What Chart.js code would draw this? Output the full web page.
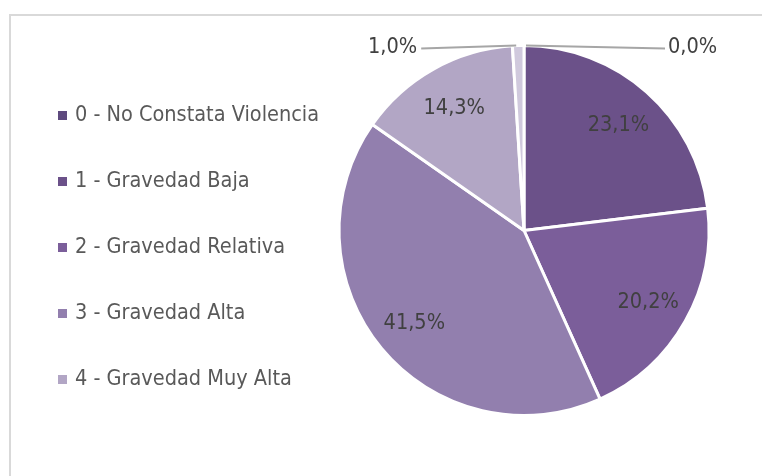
<!DOCTYPE html>
<html>
<head>
<meta charset="utf-8">
<script src="https://cdn.jsdelivr.net/npm/chart.js@4.4.1/dist/chart.umd.min.js"></script>
<style>
  html, body { margin: 0; padding: 0; background: #fff; }
  #wrap { position: relative; width: 762px; height: 476px; overflow: hidden; }
  #frame { position: absolute; left: 9px; top: 14px; width: 800px; height: 500px;
           border: 2px solid #d9d9d9; }
  canvas { position: absolute; left: 0; top: 0; }
</style>
</head>
<body>
<div id="wrap">
  <div id="frame"></div>
  <canvas id="pie" width="762" height="476"></canvas>
</div>
<script>
// Gravedad de la violencia constatada (%)
const categories = [
  '0 - No Constata Violencia',
  '1 - Gravedad Baja',
  '2 - Gravedad Relativa',
  '3 - Gravedad Alta',
  '4 - Gravedad Muy Alta',
  ''
];
const shares = [0.0, 23.1, 20.2, 41.5, 14.3, 1.0];
const sliceColors = ['#5e4a7e', '#6b5189', '#7b5e9a', '#927fae', '#b2a6c5', '#d0c9dd'];
const legendCount = 5;

const FONT = '"Liberation Sans Narrow", "DejaVu Sans Condensed", sans-serif';

const fmt = v => v.toFixed(1).replace('.', ',') + '%';

// percentage labels, small slices get a leader line out to the side
const sliceLabels = {
  id: 'sliceLabels',
  afterDatasetsDraw(chart) {
    const { ctx } = chart;
    const meta = chart.getDatasetMeta(0);
    ctx.save();
    ctx.font = '21.5px ' + FONT;
    ctx.fillStyle = '#404040';
    ctx.textBaseline = 'middle';
    meta.data.forEach((arc, i) => {
      const v = shares[i];
      const mid = (arc.startAngle + arc.endAngle) / 2;
      const r = arc.outerRadius;
      if (v >= 5) {
        const x = arc.x + Math.cos(mid) * r * 0.77;
        const y = arc.y + Math.sin(mid) * r * 0.77;
        ctx.textAlign = 'center';
        ctx.fillText(fmt(v), x, y + 2);
      } else {
        const ax = arc.x + Math.cos(mid) * r;
        const ay = arc.y + Math.sin(mid) * r;
        const right = i === 0;
        const ex = right ? ax + 141 : ax - 97;
        ctx.strokeStyle = '#a6a6a6';
        ctx.lineWidth = 2;
        ctx.beginPath();
        ctx.moveTo(ax + (right ? 2 : -2), ay);
        ctx.lineTo(ex, ay + 3);
        ctx.stroke();
        ctx.textAlign = right ? 'left' : 'right';
        ctx.fillText(fmt(v), ex + (right ? 3 : -4), ay + 2);
      }
    });
    ctx.restore();
  }
};

// legend column on the left
const sideLegend = {
  id: 'sideLegend',
  afterDraw(chart) {
    const { ctx } = chart;
    const colors = chart.data.datasets[0].backgroundColor;
    ctx.save();
    ctx.font = '21.5px ' + FONT;
    ctx.textBaseline = 'middle';
    ctx.textAlign = 'left';
    for (let i = 0; i < legendCount; i++) {
      const y = 115 + i * 66;
      ctx.fillStyle = colors[i];
      ctx.fillRect(58, y - 4, 9, 9);
      ctx.fillStyle = '#595959';
      ctx.fillText(chart.data.labels[i], 75, y);
    }
    ctx.restore();
  }
};

new Chart(document.getElementById('pie'), {
  type: 'pie',
  data: {
    labels: categories,
    datasets: [{
      data: shares,
      backgroundColor: sliceColors,
      borderColor: '#ffffff',
      borderWidth: 3
    }]
  },
  options: {
    responsive: false,
    animation: false,
    layout: { padding: { left: 336, right: 50, top: 44, bottom: 59 } },
    plugins: {
      legend: { display: false },
      tooltip: { enabled: false }
    }
  },
  plugins: [sliceLabels, sideLegend]
});
</script>
</body>
</html>
